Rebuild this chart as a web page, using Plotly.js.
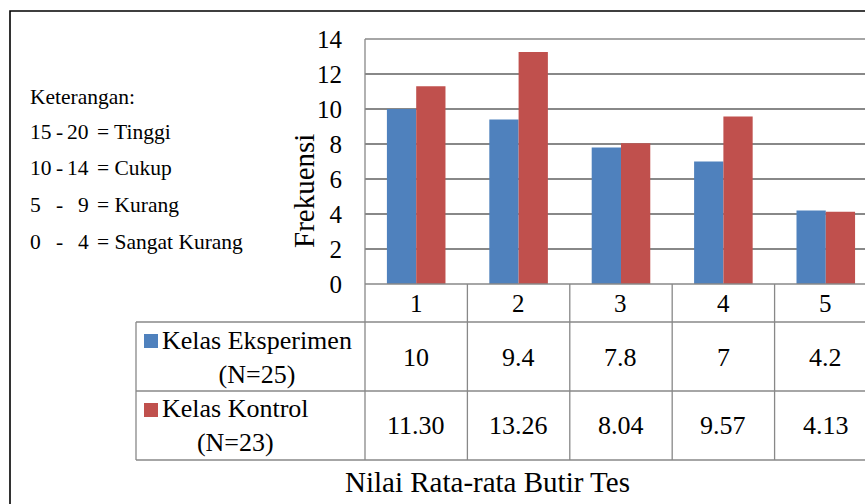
<!DOCTYPE html>
<html>
<head>
<meta charset="utf-8">
<script src="https://cdn.plot.ly/plotly-3.0.1.min.js"></script>
<style>
  html, body { margin: 0; padding: 0; background: #ffffff; overflow: hidden; }
  #chart { width: 865px; height: 504px; }
</style>
</head>
<body>
<div id="chart"></div>
<script>
// ---- data ----
const categories = ["1", "2", "3", "4", "5"];
const eksperimen = [10, 9.4, 7.8, 7, 4.2];
const kontrol = [11.30, 13.26, 8.04, 9.57, 4.13];
const seriesNames = ["Kelas Eksperimen", "Kelas Kontrol"];
const seriesN = ["(N=25)", "(N=23)"];
const yTicks = [0, 2, 4, 6, 8, 10, 12, 14];
const yTitle = "Frekuensi";
const xTitle = "Nilai Rata-rata Butir Tes";
const keteranganTitle = "Keterangan:";
const rangeLo = ["15", "10", "5", "0"];
const rangeHi = ["20", "14", "9", "4"];
const levels = ["Tinggi", "Cukup", "Kurang", "Sangat Kurang"];

// ---- style ----
const FONT = "Liberation Serif";
const colors = ["#4F81BD", "#C0504D"];
const gridColor = "#888888";
const W = 865, H = 504;
const plotL = 365, plotR = 865, plotT = 39, plotB = 284;
const xRange = [-0.5, 4.383];

// pixel -> paper helpers
const px = X => (X - plotL) / (plotR - plotL);
const py = Y => (plotB - Y) / (plotB - plotT);
const catToPaper = v => (v - xRange[0]) / (xRange[1] - xRange[0]);
const mkFont = s => ({ family: FONT, size: s, color: "#000000" });

const traces = [
  { type: "bar", name: seriesNames[0], x: categories, y: eksperimen,
    marker: { color: colors[0], line: { width: 0 } }, hoverinfo: "none" },
  { type: "bar", name: seriesNames[1], x: categories, y: kontrol,
    marker: { color: colors[1], line: { width: 0 } }, hoverinfo: "none" }
];

const shapes = [];
const annotations = [];
const line = (x0, y0, x1, y1, color, width) => shapes.push({
  type: "line", xref: "paper", yref: "paper",
  x0: px(x0), y0: py(y0), x1: px(x1), y1: py(y1),
  line: { color: color, width: width }
});

// outer frame (extends beyond visible area)
shapes.push({ type: "rect", xref: "paper", yref: "paper",
  x0: px(10), y0: py(11), x1: px(900), y1: py(540),
  line: { color: "#000000", width: 1.6 }, fillcolor: "rgba(0,0,0,0)" });

// plot frame top and left
line(plotL, plotT, plotR + 20, plotT, gridColor, 1.3);
line(plotL, plotT, plotL, 460, gridColor, 1.3);

// data table lines
const rowLines = [284, 322, 391, 460];
rowLines.forEach((y, i) => line(i === 0 ? plotL : 136, y, plotR + 20, y, gridColor, 1.3));
line(136, 322, 136, 460, gridColor, 1.3);
for (let i = 0; i < categories.length - 1; i++) {
  const xp = catToPaper(i + 0.5);
  shapes.push({ type: "line", xref: "paper", yref: "paper",
    x0: xp, x1: xp, y0: py(284), y1: py(460),
    line: { color: gridColor, width: 1.3 } });
}

// category labels row and values
const rowY = [303, 357, 425];
categories.forEach((c, i) => {
  annotations.push({ xref: "x", yref: "paper", x: i, y: py(rowY[0]), text: c,
    showarrow: false, xanchor: "center", yanchor: "middle", font: mkFont(25) });
  annotations.push({ xref: "x", yref: "paper", x: i, y: py(rowY[1]), text: String(eksperimen[i]),
    showarrow: false, xanchor: "center", yanchor: "middle", font: mkFont(26) });
  annotations.push({ xref: "x", yref: "paper", x: i, y: py(rowY[2]), text: kontrol[i].toFixed(2),
    showarrow: false, xanchor: "center", yanchor: "middle", font: mkFont(26) });
});

// row headers with legend keys
const keyTop = [334, 403];
const headY = [357, 425];
seriesNames.forEach((n, i) => {
  shapes.push({ type: "rect", xref: "paper", yref: "paper",
    x0: px(144), x1: px(158), y0: py(keyTop[i]), y1: py(keyTop[i] + 14),
    line: { width: 0 }, fillcolor: colors[i] });
  annotations.push({ xref: "paper", yref: "paper", x: px(160), y: py(headY[i]),
    text: n + "<br>" + seriesN[i], align: "center",
    showarrow: false, xanchor: "left", yanchor: "middle", font: mkFont(26) });
});

// y title
annotations.push({ xref: "paper", yref: "paper", x: px(304), y: py(191), text: yTitle,
  textangle: -90, showarrow: false, xanchor: "center", yanchor: "middle", font: mkFont(29) });

// x title
annotations.push({ xref: "paper", yref: "paper", x: px(487), y: py(482), text: xTitle,
  showarrow: false, xanchor: "center", yanchor: "middle", font: mkFont(29) });

// Keterangan block
annotations.push({ xref: "paper", yref: "paper", x: px(28), y: py(97), text: keteranganTitle,
  showarrow: false, xanchor: "left", yanchor: "middle", font: mkFont(21.5) });
const ketY = [132, 168, 205, 242];
levels.forEach((lv, i) => {
  annotations.push({ xref: "paper", yref: "paper", x: px(28), y: py(ketY[i]), text: rangeLo[i],
    showarrow: false, xanchor: "left", yanchor: "middle", font: mkFont(21.5) });
  annotations.push({ xref: "paper", yref: "paper", x: px(59), y: py(ketY[i]), text: "-",
    showarrow: false, xanchor: "center", yanchor: "middle", font: mkFont(21.5) });
  annotations.push({ xref: "paper", yref: "paper", x: px(91), y: py(ketY[i]), text: rangeHi[i],
    showarrow: false, xanchor: "right", yanchor: "middle", font: mkFont(21.5) });
  annotations.push({ xref: "paper", yref: "paper", x: px(95), y: py(ketY[i]), text: "= " + lv,
    showarrow: false, xanchor: "left", yanchor: "middle", font: mkFont(21.5) });
});

const layout = {
  width: W, height: H,
  margin: { l: plotL, r: W - plotR, t: plotT, b: H - plotB, pad: 0 },
  paper_bgcolor: "#ffffff", plot_bgcolor: "#ffffff",
  showlegend: false,
  barmode: "group", bargap: 0.428, bargroupgap: 0,
  xaxis: { type: "category", range: xRange, showticklabels: false, ticks: "",
    showgrid: false, zeroline: false, showline: false, fixedrange: true },
  yaxis: { range: [0, 14], tickvals: yTicks, ticktext: yTicks.map(String),
    showgrid: true, gridcolor: gridColor, gridwidth: 1.3, zeroline: false,
    showline: false, ticks: "", ticklabelstandoff: 22,
    tickfont: mkFont(25), fixedrange: true },
  shapes: shapes,
  annotations: annotations,
  font: { family: FONT, color: "#000000" }
};

Plotly.newPlot("chart", traces, layout, { displayModeBar: false, staticPlot: true });
</script>
</body>
</html>
